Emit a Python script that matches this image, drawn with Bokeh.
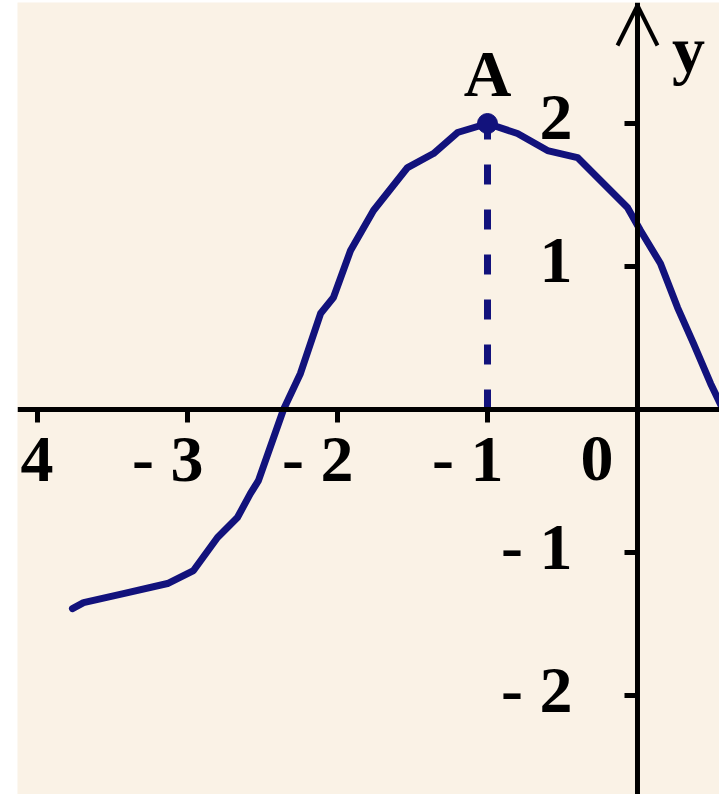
from bokeh.plotting import figure
from bokeh.models import Range1d, Arrow, OpenHead, ColumnDataSource, Span
from bokeh.core.properties import value
from bokeh.embed import file_html
from bokeh.resources import INLINE

# ---- data ----
curve_x = [-3.767, -3.693, -3.427, -3.133, -2.960, -2.800, -2.667, -2.580, -2.527,
           -2.360, -2.247, -2.113, -2.027, -1.913, -1.760, -1.533, -1.360, -1.200,
           -1.000, -0.800, -0.600, -0.400, -0.247, -0.067, 0.020, 0.153, 0.267,
           0.373, 0.487, 0.573, 0.620]
curve_y = [-1.392, -1.350, -1.287, -1.217, -1.126, -0.895, -0.755, -0.587, -0.497,
           0.000, 0.252, 0.671, 0.783, 1.112, 1.392, 1.692, 1.790, 1.937,
           2.000, 1.930, 1.811, 1.762, 1.601, 1.413, 1.252, 1.021, 0.713,
           0.462, 0.182, -0.007, -0.110]
peak_x = [-1.0]
peak_y = [2.0]
peak_label = ["A"]

x_ticks = [-4, -3, -2, -1, 0]
x_tick_labels = ["- 4", "- 3", "- 2", "- 1", "0"]
y_ticks = [-2, -1, 1, 2]
y_tick_labels = ["- 2", "- 1", "1", "2"]
y_axis_title = ["y"]

NAVY = "#12127c"
BG = "#faf2e6"
FONT = value("Liberation Serif")
FS = "66px"

W, H = 719, 794
BL, BT = 17, 2
FW, FH = W - BL, H - BT

x_range = Range1d(-4.1333, -4.1333 + FW / 150)
y_range = Range1d(2.8462 - FH / 143, 2.8462)
ux = (x_range.end - x_range.start) / FW   # data units per pixel
uy = (y_range.end - y_range.start) / FH

p = figure(width=W, height=H, output_backend="svg", toolbar_location=None,
           x_range=x_range, y_range=y_range, x_axis_type=None, y_axis_type=None,
           min_border_left=BL, min_border_right=0, min_border_top=BT, min_border_bottom=0)
p.background_fill_color = BG
p.border_fill_color = "white"
p.outline_line_color = None
p.xgrid.visible = False
p.ygrid.visible = False

# axes through the origin
p.add_layout(Span(location=0, dimension="width", line_width=5, line_color="black"))
p.add_layout(Span(location=0, dimension="height", line_width=5, line_color="black"))

# tick marks (13 px, below the x axis and left of the y axis)
xt = [t for t in x_ticks if t != 0]
p.segment(x0=xt, y0=[0] * len(xt), x1=xt, y1=[-13 * uy] * len(xt),
          line_width=5, line_color="black")
p.segment(x0=[0] * len(y_ticks), y0=y_ticks, x1=[-13 * ux] * len(y_ticks), y1=y_ticks,
          line_width=5, line_color="black")

# arrow head on the y axis
p.add_layout(Arrow(end=OpenHead(size=40, line_width=4, line_color="black"),
                   x_start=0, y_start=y_range.end - 0.5, x_end=0, y_end=y_range.end - 3 * uy,
                   line_width=5, line_color="black"))

# dashed drop line from A to x axis
p.line([peak_x[0], peak_x[0]], [0, peak_y[0]], line_width=7, line_color=NAVY,
       line_dash="20 25")

# the curve
p.line(curve_x, curve_y, line_width=7, line_color=NAVY, line_join="round", line_cap="round")
p.scatter(peak_x, peak_y, size=20, color=NAVY)

# tick labels
xsrc = ColumnDataSource(dict(x=x_ticks, y=[0] * len(x_ticks), t=x_tick_labels,
                             dx=[16 if v != 0 else -24 for v in x_ticks]))
p.text("x", "y", text="t", source=xsrc, x_offset="dx", y_offset=49,
       text_font=FONT, text_font_style="bold", text_font_size=FS,
       text_align="right", text_baseline="middle", text_color="black")

ysrc = ColumnDataSource(dict(x=[0] * len(y_ticks), y=y_ticks, t=y_tick_labels))
p.text("x", "y", text="t", source=ysrc, x_offset=-65, y_offset=-6,
       text_font=FONT, text_font_style="bold", text_font_size=FS,
       text_align="right", text_baseline="middle", text_color="black")

p.text(peak_x, peak_y, text=peak_label, x_offset=0, y_offset=-50,
       text_font=FONT, text_font_style="bold", text_font_size=FS,
       text_align="center", text_baseline="middle", text_color="black")

p.text([0], [y_range.end], text=y_axis_title, x_offset=51, y_offset=47,
       text_font=FONT, text_font_style="bold", text_font_size=FS,
       text_align="center", text_baseline="alphabetic", text_color="black")

open("out.html", "w").write(file_html(p, INLINE))
